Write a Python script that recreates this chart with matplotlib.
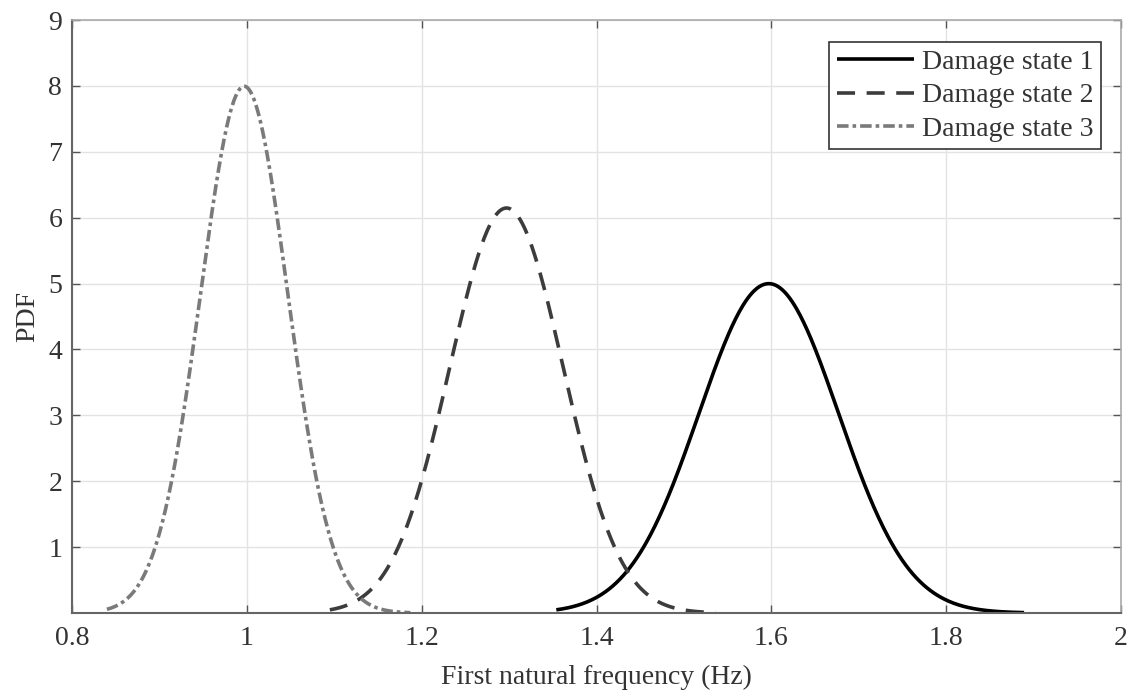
import numpy as np
import matplotlib
import matplotlib.pyplot as plt

matplotlib.use("Agg")

# === Data: normal PDFs per damage state ===
labels = ["Damage state 1", "Damage state 2", "Damage state 3"]
means = [1.597, 1.297, 0.997]
stds = [0.0798, 0.0649, 0.0499]
x_starts = [1.354, 1.095, 0.840]
x_ends = [1.889, 1.536, 1.187]

# styles
colors = ["#000000", "#3c3c3c", "#7a7a7a"]
dashes = [None, (5, 3.2), (3.2, 1.1, 1.0, 1.1)]

x_ticks = [0.8, 1.0, 1.2, 1.4, 1.6, 1.8, 2.0]
x_tick_labels = ["0.8", "1", "1.2", "1.4", "1.6", "1.8", "2"]
y_ticks = [1, 2, 3, 4, 5, 6, 7, 8, 9]

plt.rcParams["font.family"] = ["Liberation Serif", "DejaVu Serif"]
plt.rcParams["font.size"] = 20

fig = plt.figure(figsize=(11.33, 6.93), dpi=100)
ax = fig.add_axes([0.0635, 0.1154, 0.926, 0.8557])

for lab, mu, sd, x0, x1, c, d in zip(labels, means, stds, x_starts, x_ends, colors, dashes):
    x = np.linspace(x0, x1, 400)
    pdf = np.exp(-0.5 * ((x - mu) / sd) ** 2) / (sd * np.sqrt(2 * np.pi))
    (line,) = ax.plot(x, pdf, color=c, lw=2.6, label=lab, solid_capstyle="butt")
    if d is not None:
        line.set_dashes(d)

ax.set_xlim(0.8, 2.0)
ax.set_ylim(0, 9)
ax.set_xticks(x_ticks)
ax.set_xticklabels(x_tick_labels)
ax.set_yticks(y_ticks)

ax.grid(True, color="#e3e3e3", lw=1)
ax.set_axisbelow(True)
ax.tick_params(direction="in", length=6, width=1, top=True, right=True,
               colors="#555555", labelcolor="#333333")
ax.tick_params(axis="x", pad=9)
ax.tick_params(axis="y", pad=7)
for side in ["left", "bottom"]:
    ax.spines[side].set_color("#666666")
    ax.spines[side].set_linewidth(1.5)
for side in ["top", "right"]:
    ax.spines[side].set_color("#aaaaaa")
    ax.spines[side].set_linewidth(1.2)

ax.set_xlabel("First natural frequency (Hz)", color="#333333", labelpad=10)
ax.set_ylabel("PDF", color="#333333", labelpad=6)

leg = ax.legend(loc="upper right", bbox_to_anchor=(0.981, 0.963), borderaxespad=0,
                fancybox=False, edgecolor="#333333", framealpha=1, handlelength=2.75,
                handletextpad=0.3, labelspacing=0.28, borderpad=0.28)
leg.get_frame().set_linewidth(1.2)
for t in leg.get_texts():
    t.set_color("#333333")

fig.savefig("out.png", dpi=100)
